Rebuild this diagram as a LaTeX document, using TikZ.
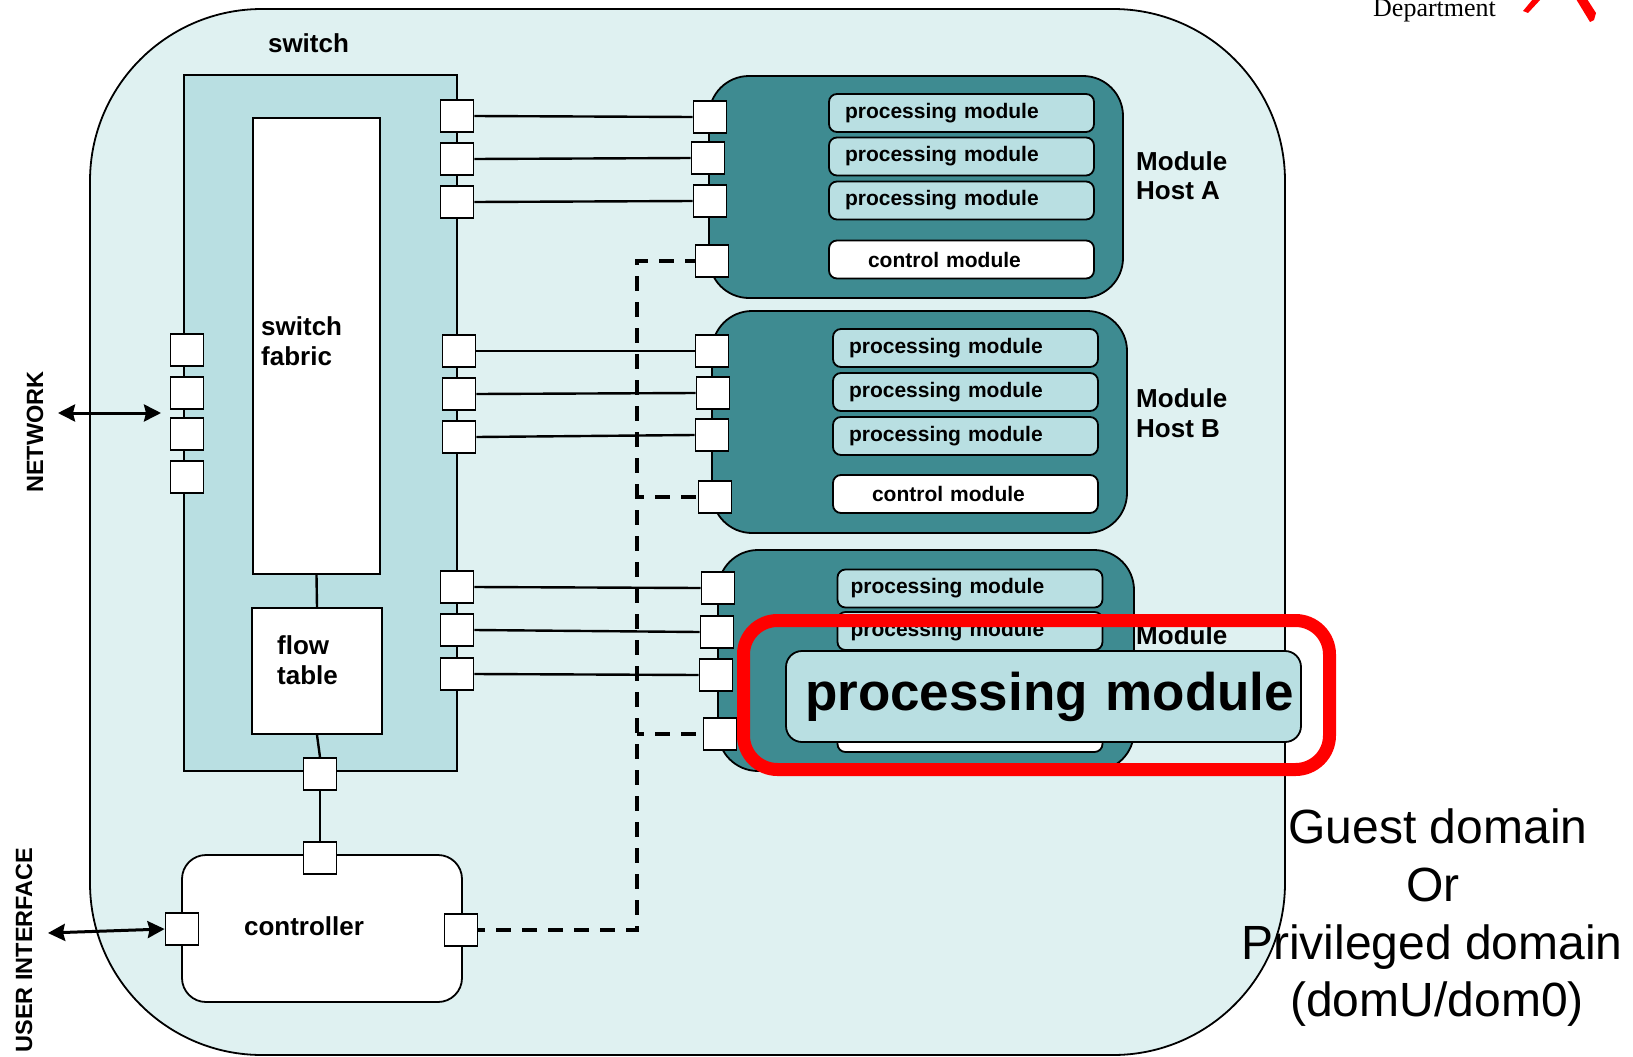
\documentclass[tikz,border=0pt]{standalone}
\usepackage{fontspec}
\setmainfont{Liberation Sans}
\newfontfamily\deptfont{Liberation Serif}
\usetikzlibrary{arrows.meta}
\definecolor{bgc}{HTML}{DFF1F1}
\definecolor{swc}{HTML}{B9DFE2}
\definecolor{hostc}{HTML}{3E8B91}
\definecolor{redc}{HTML}{FF0000}
\newcommand\setfs[1]{\fontsize{#1}{#1}\selectfont}
\begin{document}
\begin{tikzpicture}[x=1pt,y=-1pt,
  portbox/.style={draw, fill=white, line width=1.8pt, minimum width=33pt, minimum height=32pt, inner sep=0pt},
  plainbox/.style={draw, line width=1.8pt, inner sep=0pt},
  hostbox/.style={draw, fill=hostc, line width=1.8pt, rounded corners=40pt, inner sep=0pt},
  procmod/.style={draw, fill=swc, rounded corners=8pt, line width=1.8pt, minimum width=265pt, minimum height=38pt,
             text width=233pt, inner xsep=16pt, inner ysep=0pt, align=left, font=\bfseries\setfs{21}},
  ctlmod/.style={procmod, fill=white},
  lbl/.style={font=\bfseries\setfs{26}, inner sep=0pt},
  guest/.style={font=\setfs{48}, inner sep=0pt, anchor=base},
  dataconn/.style={line width=2.4pt},
  ctrlconn/.style={line width=3.6pt, dash pattern=on 15pt off 11pt, dash phase=8pt},
  dblarrow/.style={line width=3pt, {Stealth[length=17pt,width=17pt,inset=2pt]}-{Stealth[length=17pt,width=17pt,inset=2pt]}}
]
\useasboundingbox (0,0) rectangle (1633,1057);

% outer domain
\node[plainbox, fill=bgc, rounded corners=172pt, minimum width=1195pt, minimum height=1046pt] (dom) at (687.5,532) {};

% switch
\node[plainbox, fill=swc, minimum width=273pt, minimum height=696pt] (sw) at (320.5,423) {};
\node[lbl, anchor=base] (swlbl) at (308.5,53) {switch};
\node[plainbox, fill=white, minimum width=127pt, minimum height=456pt] (fab) at (316.5,346) {};
\node[lbl, anchor=base west] (fab1) at (261,335) {switch};
\node[lbl, anchor=base west] (fab2) at (261,365) {fabric};
\node[plainbox, fill=white, minimum width=130pt, minimum height=126pt] (flow) at (317,671) {};
\node[lbl, anchor=base west] (ft1) at (277,654) {flow};
\node[lbl, anchor=base west] (ft2) at (277,684) {table};

% hosts
\node[hostbox, minimum width=414pt, minimum height=222pt] (hostA) at (916,187) {};
\node[hostbox, minimum width=415pt, minimum height=222pt] (hostB) at (919.5,422) {};
\node[hostbox, minimum width=416pt, minimum height=221pt] (hostC) at (926,660.5) {};

% modules host A
\node[procmod] (pa1) at (961.5,113) {processing module};
\node[procmod] (pa2) at (961.5,156.5) {processing module};
\node[procmod] (pa3) at (961.5,200.5) {processing module};
\node[ctlmod] (ca) at (961.5,259.5) {\hspace*{23pt}control module};
% modules host B
\node[procmod] (pb1) at (965.5,348) {processing module};
\node[procmod] (pb2) at (965.5,392) {processing module};
\node[procmod] (pb3) at (965.5,436) {processing module};
\node[ctlmod] (cb) at (965.5,494) {\hspace*{23pt}control module};
% modules host C
\node[procmod, inner xsep=13pt, text width=239pt] (pc1) at (970,588.5) {processing module};
\node[procmod, inner xsep=13pt, text width=239pt] (pc2) at (970,631) {processing module};
\node[ctlmod] (cc) at (970,733) {};

% host labels
\node[lbl, anchor=base west] (la1) at (1136,170) {Module};
\node[lbl, anchor=base west] (la2) at (1136,199) {Host A};
\node[lbl, anchor=base west] (lb1) at (1136,407) {Module};
\node[lbl, anchor=base west] (lb2) at (1136,437) {Host B};
\node[lbl, anchor=base west] (lc1) at (1136,644) {Module};

% controller
\node[plainbox, fill=white, rounded corners=24pt, minimum width=280pt, minimum height=147pt] (ctrl) at (322,928.5) {};
\node[lbl, anchor=base] (ctrltxt) at (304,935) {controller};

\coordinate (dv) at (637,0);

% switch ports
\node[portbox] (sl1) at (187,350) {};
\node[portbox] (sl2) at (187,393) {};
\node[portbox] (sl3) at (187,434) {};
\node[portbox] (sl4) at (187,477) {};
\node[portbox] (s1) at (457,116) {};
\node[portbox] (s2) at (457,159) {};
\node[portbox] (s3) at (457,202) {};
\node[portbox] (s4) at (459,351) {};
\node[portbox] (s5) at (459,394) {};
\node[portbox] (s6) at (459,437) {};
\node[portbox] (s7) at (457,587) {};
\node[portbox] (s8) at (457,630) {};
\node[portbox] (s9) at (457,674) {};
\node[portbox] (sb) at (320,774) {};

% host ports
\node[portbox] (ha1) at (710,117) {};
\node[portbox] (ha2) at (708,158) {};
\node[portbox] (ha3) at (710,201) {};
\node[portbox] (ha4) at (712,261) {};
\node[portbox] (hb1) at (712,351) {};
\node[portbox] (hb2) at (713,393) {};
\node[portbox] (hb3) at (712,435) {};
\node[portbox] (hb4) at (715,497) {};
\node[portbox] (hc1) at (718,588) {};
\node[portbox] (hc2) at (717,632) {};
\node[portbox] (hc3) at (716,675) {};
\node[portbox] (hc4) at (720,734) {};

% controller ports
\node[portbox] (ctop) at (320,858) {};
\node[portbox] (cleft) at (182,929) {};
\node[portbox] (cright) at (461,930) {};

% data connectors
\draw[dataconn] (s1.east) -- (ha1.west);
\draw[dataconn] (s2.east) -- (ha2.west);
\draw[dataconn] (s3.east) -- (ha3.west);
\draw[dataconn] (s4.east) -- (hb1.west);
\draw[dataconn] (s5.east) -- (hb2.west);
\draw[dataconn] (s6.east) -- (hb3.west);
\draw[dataconn] (s7.east) -- (hc1.west);
\draw[dataconn] (s8.east) -- (hc2.west);
\draw[dataconn] (s9.east) -- (hc3.west);
\draw[dataconn] (fab.south) -- (flow.north);
\draw[dataconn] (flow.south) -- (sb.north);
\draw[dataconn] (sb.south) -- (ctop.north);

% control (dashed) connectors
\draw[ctrlconn] (cright.east) -- (cright.east -| dv) -- (dv |- ha4.west) -- (ha4.west);
\draw[ctrlconn] (dv |- hb4.west) -- (hb4.west);
\draw[ctrlconn] (dv |- hc4.west) -- (hc4.west);

% external arrows
\coordinate (netL) at (58,413);
\coordinate (netR) at (161,413);
\draw[dblarrow] (netL) -- (netR);
\coordinate (uiL) at (48,933);
\draw[dblarrow] (uiL) -- (cleft.west);
\node[font=\bfseries\setfs{23.5}, inner sep=0pt, rotate=90] (netlbl) at (35,432) {NETWORK};
\node[font=\bfseries\setfs{23.5}, inner sep=0pt, rotate=90] (uilbl) at (24,950) {USER INTERFACE};

% highlighted big processing module
\node[draw, fill=swc, line width=1.8pt, rounded corners=16pt, minimum width=515pt, minimum height=91pt,
      text width=501pt, inner xsep=7pt, inner ysep=0pt, align=right, font=\bfseries\setfs{53}] (bigpm) at (1043.5,696.5) {processing module};
\node[draw=redc, line width=13pt, rounded corners=34pt, minimum width=586pt, minimum height=149pt, inner sep=0pt] (hl) at (1036.5,695) {};

% right text
\node[guest] (g1) at (1438,843) {Guest domain};
\node[guest] (g2) at (1433,901) {Or};
\node[guest] (g3) at (1432,959) {Privileged domain};
\node[guest] (g4) at (1437,1016) {(domU/dom0)};

% department header fragment
\node[font=\deptfont\setfs{26}, inner sep=0pt, anchor=base west] (dept) at (1373,17) {Department};
\fill[redc] (1523,11) -- (1533,-1) -- (1541,-1) -- (1528,13) -- cycle;
\fill[redc] (1576,-1) -- (1587,-1) -- (1596,13) -- (1594,20) -- (1590,22) -- cycle;
\end{tikzpicture}
\end{document}
